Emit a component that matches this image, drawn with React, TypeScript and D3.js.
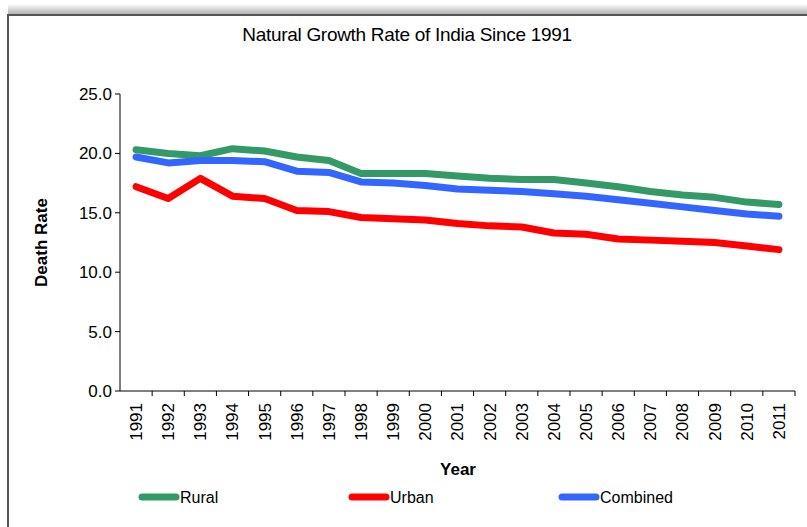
import React from 'react';
import * as d3 from 'd3';

const years = [
  '1991', '1992', '1993', '1994', '1995', '1996', '1997', '1998', '1999', '2000',
  '2001', '2002', '2003', '2004', '2005', '2006', '2007', '2008', '2009', '2010', '2011'
];
const rural = [20.3, 20.0, 19.8, 20.4, 20.2, 19.7, 19.4, 18.3, 18.3, 18.3, 18.1, 17.9, 17.8, 17.8, 17.5, 17.2, 16.8, 16.5, 16.3, 15.9, 15.7];
const urban = [17.2, 16.2, 17.9, 16.4, 16.2, 15.2, 15.1, 14.6, 14.5, 14.4, 14.1, 13.9, 13.8, 13.3, 13.2, 12.8, 12.7, 12.6, 12.5, 12.2, 11.9];
const combined = [19.7, 19.2, 19.4, 19.4, 19.3, 18.5, 18.4, 17.6, 17.5, 17.3, 17.0, 16.9, 16.8, 16.6, 16.4, 16.1, 15.8, 15.5, 15.2, 14.9, 14.7];
const yTicks = [0, 5, 10, 15, 20, 25];

const series = [
  { name: 'Rural', color: '#339966', values: rural },
  { name: 'Urban', color: '#ff0000', values: urban },
  { name: 'Combined', color: '#3366ff', values: combined }
];

const W = 807;
const H = 527;
const plot = { left: 120, right: 795, top: 94, bottom: 391 };
const font = 'Liberation Sans, Arial, sans-serif';

const App = () => {
  const x = d3.scaleBand().domain(years).range([plot.left, plot.right]);
  const y = d3.scaleLinear().domain([0, 25]).range([plot.bottom, plot.top]);
  const cx = (yr: string) => (x(yr) as number) + x.bandwidth() / 2;

  const line = (vals: number[]) =>
    d3.line<number>()
      .x((d, i) => cx(years[i]))
      .y(d => y(d))(vals) as string;

  const legendX = [140, 350, 560];

  return (
    <svg width={W} height={H} style={{ position: 'absolute', left: 0, top: 0, background: '#fff' }} fontFamily={font}>
      <defs>
        <linearGradient id="shadow" x1="0" y1="0" x2="0" y2="1">
          <stop offset="0" stopColor="#fff" />
          <stop offset="1" stopColor="#aaa" />
        </linearGradient>
      </defs>
      {/* chart frame */}
      <rect x={8} y={4} width={W} height={11} fill="url(#shadow)" />
      <rect x={8} y={15} width={W + 10} height={H} fill="#fff" stroke="#555" strokeWidth={2} />

      <text x={407} y={41} textAnchor="middle" fontSize={19} letterSpacing={-0.3} fill="#000">
        Natural Growth Rate of India Since 1991
      </text>

      {/* y axis */}
      <line x1={plot.left} x2={plot.left} y1={plot.top} y2={plot.bottom} stroke="#000" />
      {yTicks.map(t => (
        <g key={t}>
          <line x1={plot.left - 5} x2={plot.left} y1={y(t)} y2={y(t)} stroke="#000" />
          <text x={plot.left - 8} y={y(t)} dy="0.35em" textAnchor="end" fontSize={17} fill="#000">
            {d3.format('.1f')(t)}
          </text>
        </g>
      ))}
      <text transform={`translate(47,${(plot.top + plot.bottom) / 2}) rotate(-90)`} textAnchor="middle"
        fontSize={17} fontWeight="bold" fill="#000">
        Death Rate
      </text>

      {/* x axis */}
      <line x1={plot.left} x2={plot.right} y1={plot.bottom} y2={plot.bottom} stroke="#000" />
      {years.map(yr => (
        <line key={'t' + yr} x1={x(yr)! + x.bandwidth()} x2={x(yr)! + x.bandwidth()}
          y1={plot.bottom} y2={plot.bottom + 5} stroke="#000" />
      ))}
      {years.map(yr => (
        <text key={yr} transform={`translate(${cx(yr)},${plot.bottom + 12}) rotate(-90)`}
          dy="0.35em" textAnchor="end" fontSize={17} fill="#000">
          {yr}
        </text>
      ))}
      <text x={458} y={475} textAnchor="middle" fontSize={17} fontWeight="bold" fill="#000">Year</text>

      {/* lines */}
      {series.map(s => (
        <path key={s.name} d={line(s.values)} fill="none" stroke={s.color} strokeWidth={7}
          strokeLinejoin="round" strokeLinecap="round" />
      ))}

      {/* legend */}
      {series.map((s, i) => (
        <g key={'lg' + s.name}>
          <line x1={legendX[i] + 2} x2={legendX[i] + 36} y1={497} y2={497} stroke={s.color}
            strokeWidth={7} strokeLinecap="round" />
          <text x={legendX[i] + 40} y={497} dy="0.35em" fontSize={16} fill="#000">{s.name}</text>
        </g>
      ))}
    </svg>
  );
};

export default App;
